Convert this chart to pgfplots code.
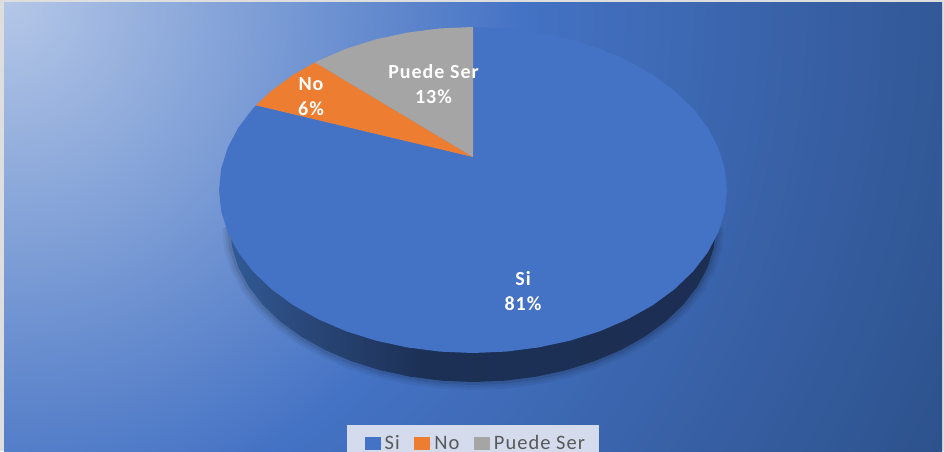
\documentclass[border=0pt]{standalone}
\usepackage{fontspec}
\usepackage{pgfplots}
\pgfplotsset{compat=1.18}
\newfontfamily\legfont[LetterSpace=5]{Carlito}
\newfontfamily\labfont[LetterSpace=5]{Carlito}
\definecolor{cblue}{HTML}{4472C4}
\definecolor{corange}{HTML}{ED7D31}
\definecolor{cgrey}{HTML}{A5A5A5}
\definecolor{legfill}{RGB}{211,219,236}
\definecolor{legtext}{HTML}{595959}
\definecolor{frame}{RGB}{222,222,222}
\pgfdeclarefunctionalshading{bgshade}{\pgfpoint{-50bp}{-50bp}}{\pgfpoint{50bp}{50bp}}{}{
  25 exch sub 449 mul 50 div
  dup mul exch 25 add 938 mul 50 div dup mul add sqrt 1040 div
  dup 1 gt {pop 1} {} ifelse
  dup 0.5 lt
  { 2 mul
    dup -112 mul 180 add 255 div exch
    dup -85 mul 199 add 255 div exch
    -35 mul 231 add 255 div }
  { 0.5 sub 2 mul
    dup -23 mul 68 add 255 div exch
    dup -32 mul 114 add 255 div exch
    -56 mul 196 add 255 div }
  ifelse
}
\pgfdeclarehorizontalshading{sideshade}{100bp}{
  rgb(0bp)=(0.196,0.353,0.588);
  rgb(25bp)=(0.196,0.353,0.588);
  rgb(32.5bp)=(0.165,0.282,0.478);
  rgb(45bp)=(0.110,0.188,0.333);
  rgb(100bp)=(0.106,0.173,0.314)}
\pgfplotstableread{
x y
716 227
713.9 247.2
707.7 267.1
697.5 286.3
683.4 304.5
665.8 321.4
644.8 336.6
620.9 350
594.5 361.2
566 370.2
535.9 376.7
504.7 380.7
473 382
441.3 380.7
410.1 376.7
380 370.2
351.5 361.2
325.1 350
301.2 336.6
280.2 321.4
262.6 304.5
248.5 286.3
238.3 267.1
232.1 247.2
230 227
}\lowerarc
\begin{document}
\begin{tikzpicture}[x=1pt,y=1pt]
\path[use as bounding box] (0,0) rectangle (944,451);
\begin{axis}[
  at={(0,0)}, anchor=south west,
  scale only axis, width=944pt, height=451pt,
  xmin=0, xmax=944, ymin=0, ymax=451, y dir=reverse,
  hide axis, clip=false,
  legend style={at={(axis cs:347,425)}, anchor=north west, fill=legfill, draw=none,
    inner xsep=17.5pt, inner ysep=8.5pt,
    font=\fontsize{20.5}{25}\selectfont\legfont\color{legtext},
    legend columns=3,
    /tikz/every even column/.append style={column sep=12.5pt}},
  legend cell align=left,
  legend image code/.code={\fill[#1] (0pt,-6.5pt) rectangle (16pt,6.5pt);\path (0pt,0pt) -- (18pt,0pt);},
]
\addplot[forget plot, draw=none, fill=frame] coordinates {(0,0) (944,0) (944,451) (0,451)} -- cycle;
\addplot[forget plot, draw=none, shade, shading=bgshade] coordinates {(4,2) (942,2) (942,451) (4,451)} -- cycle;
% soft shadow below the pie
\addplot[forget plot, draw=black, opacity=.05, line width=16pt, mark=none] table[x=x,y=y] {\lowerarc};
\addplot[forget plot, draw=black, opacity=.06, line width=11pt, mark=none] table[x=x,y=y] {\lowerarc};
\addplot[forget plot, draw=black, opacity=.09, line width=6pt, mark=none] table[x=x,y=y] {\lowerarc};
% side wall
\addplot[forget plot, draw=none, shade, shading=sideshade] table[x=x,y=y] {\lowerarc} -- cycle;
% slices
\addplot[draw=none, fill=cblue] coordinates {
(473,157) (473,27) (506.1,28.4) (538.7,32.6) (570.2,39.4) (600,48.8) (627.6,60.7) (652.6,74.7)
(674.5,90.8) (693,108.5) (707.7,127.6) (718.3,147.8) (724.8,168.7) (727,190)
(724.8,211.3) (718.3,232.2) (707.7,252.4) (693,271.5) (674.5,289.2) (652.6,305.3)
(627.6,319.3) (600,331.2) (570.2,340.6) (538.7,347.4) (506.1,351.6) (473,353)
(439.9,351.6) (407.3,347.4) (375.8,340.6) (346,331.2) (318.4,319.3) (293.4,305.3)
(271.5,289.2) (253,271.5) (238.3,252.4) (227.7,232.2) (221.2,211.3) (219,190)
(221.2,168.7) (227.7,147.8) (238.3,127.6) (253,108.5) (256,105.3)} -- cycle;
\addlegendentry{Si}
\addplot[draw=none, fill=corange] coordinates {
(473,157) (256,105.3) (271.5,90.8) (293.4,74.7) (315,62.4)} -- cycle;
\addlegendentry{No}
\addplot[draw=none, fill=cgrey] coordinates {
(473,157) (315,62.4) (318.4,60.7) (346,48.8) (375.8,39.4) (407.3,32.6) (439.9,28.4) (473,27)} -- cycle;
\addlegendentry{Puede Ser\kern-5.5pt\relax}
\node[text=white, align=center, font=\fontsize{20}{25}\selectfont\labfont\bfseries] at (axis cs:523,291.5) {Si\\81\%};
\node[text=white, align=center, font=\fontsize{20}{25}\selectfont\labfont\bfseries] at (axis cs:311,97) {No\\6\%};
\node[text=white, align=center, font=\fontsize{20}{25}\selectfont\labfont\bfseries] at (axis cs:433.5,84.5) {Puede Ser\\13\%};
\end{axis}
\end{tikzpicture}
\end{document}
